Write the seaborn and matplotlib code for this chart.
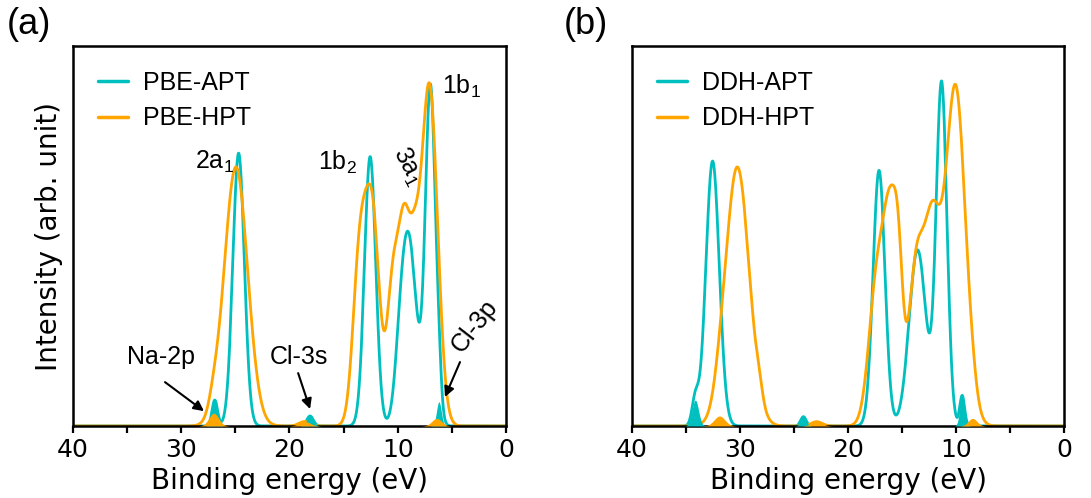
import numpy as np
import pandas as pd
import matplotlib
matplotlib.use("Agg")
import matplotlib.pyplot as plt
import seaborn as sns

# ---------------- data ----------------
# Peak centres (eV), heights (arb. unit) and broadenings (eV)
# Panel (a): PBE, water bands
pbe_apt_centers = [24.7, 12.55, 9.75, 8.95, 6.98]
pbe_apt_heights = [0.79, 0.78, 0.13, 0.52, 0.98]
pbe_apt_widths = [0.53, 0.52, 0.5, 0.7, 0.47]
# Panel (a): PBE, ion states (Na-2p, Cl-3s, Cl-3p)
pbe_apt_ion_centers = [26.9, 18.1, 6.2]
pbe_apt_ion_heights = [0.075, 0.029, 0.07]
pbe_apt_ion_widths = [0.25, 0.3, 0.22]

pbe_hpt_centers = [24.95, 13.7, 12.7, 12.1, 10.4, 9.4, 8.5, 7.1]
pbe_hpt_heights = [0.75, 0.25, 0.58, 0.15, 0.42, 0.484, 0.359, 0.98]
pbe_hpt_widths = [1.08, 0.55, 0.8, 0.5, 0.55, 0.5, 0.5, 0.75]
pbe_hpt_ion_centers = [27.0, 18.6, 6.4]
pbe_hpt_ion_heights = [0.037, 0.013, 0.022]
pbe_hpt_ion_widths = [0.45, 0.5, 0.45]

# Panel (b): DDH, water bands
ddh_apt_centers = [32.54, 17.13, 13.56, 11.34]
ddh_apt_heights = [0.767, 0.74, 0.51, 0.99]
ddh_apt_widths = [0.62, 0.55, 0.78, 0.5]
# Panel (b): DDH, ion states
ddh_apt_ion_centers = [34.14, 24.13, 9.43]
ddh_apt_ion_heights = [0.075, 0.027, 0.088]
ddh_apt_ion_widths = [0.3, 0.25, 0.22]

ddh_hpt_centers = [30.25, 28.2, 17.3, 16.0, 15.3, 13.7, 12.2, 10.05]
ddh_hpt_heights = [0.75, 0.03, 0.42, 0.55, 0.24, 0.44, 0.54, 0.98]
ddh_hpt_widths = [1.1, 0.3, 0.75, 0.65, 0.4, 0.7, 0.75, 0.93]
ddh_hpt_ion_centers = [31.9, 22.9, 8.47]
ddh_hpt_ion_heights = [0.029, 0.0125, 0.022]
ddh_hpt_ion_widths = [0.5, 0.5, 0.4]

series_names_a = ["PBE-APT", "PBE-HPT"]
series_names_b = ["DDH-APT", "DDH-HPT"]
xtick_values = [40, 30, 20, 10, 0]
xminor_values = [35, 25, 15, 5]

energy = np.linspace(0, 40, 4001)


def broaden(c, h, w):
    out = np.zeros_like(energy)
    for ci, hi, wi in zip(c, h, w):
        out += hi * np.exp(-(energy - ci) ** 2 / (2 * wi ** 2))
    return out


# ---------------- style ----------------
sns.set_theme(style="ticks")
plt.rcParams["font.family"] = ["DejaVu Sans"]
plt.rcParams["mathtext.fontset"] = "custom"
plt.rcParams["mathtext.rm"] = "Liberation Sans"
plt.rcParams["mathtext.it"] = "Liberation Sans:italic"
plt.rcParams["mathtext.bf"] = "Liberation Sans:bold"
for key in ["text.color", "axes.labelcolor", "xtick.color", "ytick.color",
            "axes.edgecolor"]:
    plt.rcParams[key] = "black"

CYAN = "#00BFBF"
ORANGE = "#FFA500"
ARIAL = ["Liberation Sans", "DejaVu Sans"]

fig = plt.figure(figsize=(10.91, 4.98), dpi=100)
axA = fig.add_axes([0.0669, 0.1446, 0.3969, 0.763])
axB = fig.add_axes([0.5793, 0.1446, 0.3960, 0.763])

panels = [
    (axA, series_names_a,
     (pbe_apt_centers, pbe_apt_heights, pbe_apt_widths),
     (pbe_apt_ion_centers, pbe_apt_ion_heights, pbe_apt_ion_widths),
     (pbe_hpt_centers, pbe_hpt_heights, pbe_hpt_widths),
     (pbe_hpt_ion_centers, pbe_hpt_ion_heights, pbe_hpt_ion_widths)),
    (axB, series_names_b,
     (ddh_apt_centers, ddh_apt_heights, ddh_apt_widths),
     (ddh_apt_ion_centers, ddh_apt_ion_heights, ddh_apt_ion_widths),
     (ddh_hpt_centers, ddh_hpt_heights, ddh_hpt_widths),
     (ddh_hpt_ion_centers, ddh_hpt_ion_heights, ddh_hpt_ion_widths)),
]

for ax, names, apt, apt_ion, hpt, hpt_ion in panels:
    apt_ion_curve = broaden(*apt_ion)
    hpt_ion_curve = broaden(*hpt_ion)
    apt_total = broaden(*apt) + apt_ion_curve
    hpt_total = broaden(*hpt) + hpt_ion_curve
    df = pd.DataFrame({
        "energy": np.concatenate([energy, energy]),
        "intensity": np.concatenate([apt_total, hpt_total]),
        "series": [names[0]] * len(energy) + [names[1]] * len(energy),
    })
    sns.lineplot(data=df, x="energy", y="intensity", hue="series",
                 palette=[CYAN, ORANGE], linewidth=2.0, ax=ax,
                 sort=False, estimator=None)
    ax.fill_between(energy, 0, apt_ion_curve, color=CYAN, lw=0, zorder=3)
    ax.fill_between(energy, 0, hpt_ion_curve, color=ORANGE, lw=0, zorder=4)

    ax.set_xlim(40, 0)
    ax.set_ylim(0, 1.1)
    ax.set_xticks(xtick_values)
    ax.set_xticks(xminor_values, minor=True)
    ax.set_yticks([])
    ax.tick_params(axis="x", which="both", direction="out", length=5,
                   width=1.6, labelsize=18, pad=4, color="black")
    for s in ax.spines.values():
        s.set_linewidth(1.8)
        s.set_color("black")
    ax.set_xlabel("Binding energy (eV)", fontsize=20, labelpad=3)
    ax.set_ylabel("")
    leg = ax.legend(loc="upper left", frameon=False, handlelength=1.2,
                    handletextpad=0.6, labelspacing=0.45,
                    prop={"family": ARIAL, "size": 18},
                    borderaxespad=0.6)
    for line in leg.get_lines():
        line.set_linewidth(2.5)

axA.set_ylabel("Intensity (arb. unit)", fontsize=20, labelpad=7)

# ---------------- annotations (panel a) ----------------
tk = dict(family=ARIAL, fontsize=18, ha="center", va="center")
axA.text(26.9, 0.765, r"2a$_\mathrm{1}$", **tk)
axA.text(15.6, 0.762, r"1b$_\mathrm{2}$", **tk)
axA.text(9.05, 0.753, r"3a$_\mathrm{1}$", rotation=-62, **tk)
axA.text(4.1, 0.984, r"1b$_\mathrm{1}$", **tk)
axA.text(31.9, 0.2, "Na-2p", **tk)
axA.text(19.1, 0.2, "Cl-3s", **tk)
axA.text(2.9, 0.29, "Cl-3p", rotation=52, **tk)

arrow = dict(arrowstyle="-|>", color="black", lw=1.5, mutation_scale=15,
             shrinkA=0, shrinkB=0)
axA.annotate("", xy=(27.9, 0.043), xytext=(31.5, 0.127), arrowprops=arrow)
axA.annotate("", xy=(18.1, 0.049), xytext=(19.2, 0.153), arrowprops=arrow)
axA.annotate("", xy=(5.64, 0.084), xytext=(4.25, 0.185), arrowprops=arrow)

fig.text(0.0266, 0.95, "(a)", family=ARIAL, fontsize=26, ha="center", va="center")
fig.text(0.537, 0.95, "(b)", family=ARIAL, fontsize=26, ha="center", va="center")

fig.savefig("out.png", dpi=100)
